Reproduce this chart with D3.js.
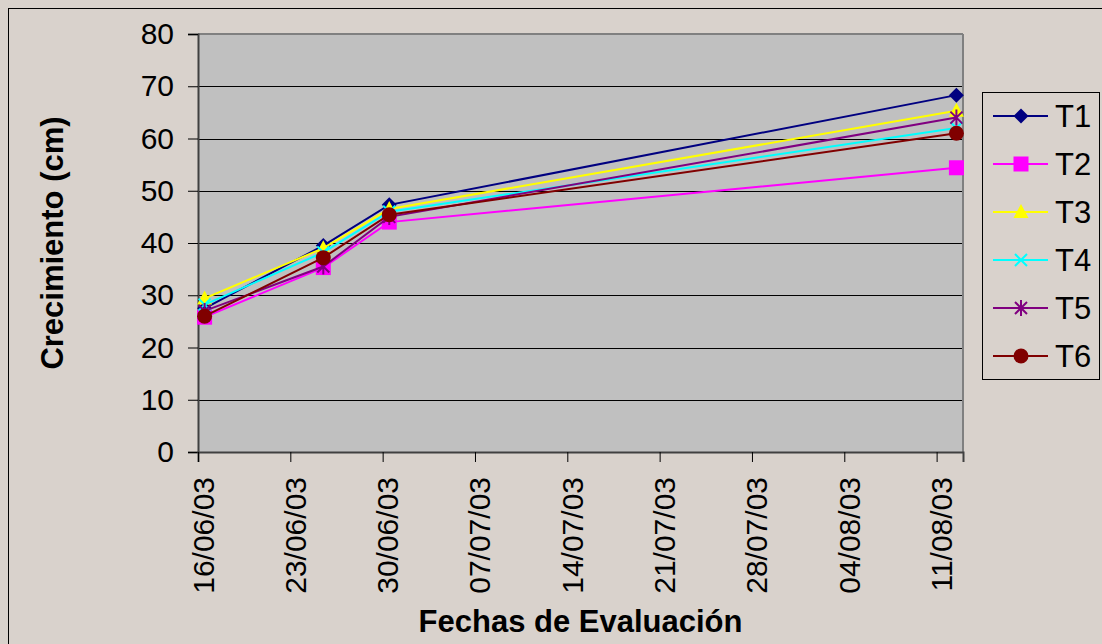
<!DOCTYPE html>
<html>
<head>
<meta charset="utf-8">
<script src="https://cdn.jsdelivr.net/npm/d3@7"></script>
<style>
  body { margin: 0; background: #d9d2cc; }
  svg { display: block; font-family: "Liberation Sans", Arial, sans-serif; }
</style>
</head>
<body>
<div id="content"></div>
<script>
// fechas de evaluacion
var fechas = ["2003-06-16", "2003-06-25", "2003-06-30", "2003-08-12"];

var series = ["T1", "T2", "T3", "T4", "T5", "T6"];
var t1 = [27.5, 39.5, 47.3, 68.3];
var t2 = [25.8, 35.3, 44.0, 54.4];
var t3 = [29.4, 39.0, 46.5, 65.3];
var t4 = [28.2, 38.2, 46.0, 62.0];
var t5 = [27.0, 35.5, 45.0, 64.0];
var t6 = [26.0, 37.2, 45.4, 61.0];
var valores = [t1, t2, t3, t4, t5, t6];

var colores = ["#000080", "#ff00ff", "#ffff00", "#00ffff", "#800080", "#800000"];
var yTicks = [0, 10, 20, 30, 40, 50, 60, 70, 80];

var parse = d3.utcParse("%Y-%m-%d");
var fmt = d3.utcFormat("%d/%m/%y");

var W = 1102, H = 644;
var margin = { top: 34, right: 139, bottom: 192, left: 198 };
var width = W - margin.left - margin.right,
    height = H - margin.top - margin.bottom;

var svg = d3.select("#content").append("svg")
  .attr("width", W)
  .attr("height", H);

svg.append("rect")
  .attr("x", 0).attr("y", 0).attr("width", W).attr("height", H)
  .attr("fill", "#d9d2cc");

svg.append("rect")
  .attr("x", 8.5).attr("y", 8.5).attr("width", W + 10).attr("height", H + 10)
  .attr("fill", "none").attr("stroke", "#000").attr("stroke-width", 1);

var g = svg.append("g")
  .attr("transform", "translate(" + margin.left + "," + margin.top + ")");

// dominio de fecha: un dia extra al final (puntos centrados en el dia)
var x0 = parse(fechas[0]);
var x1 = d3.utcDay.offset(parse(fechas[fechas.length - 1]), 1);
var x = d3.scaleUtc().domain([x0, x1]).range([0, width]);
var y = d3.scaleLinear().domain([0, 80]).range([height, 0]);

function xPos(s) {
  return x(d3.utcHour.offset(parse(s), 12));
}

g.append("rect")
  .attr("width", width).attr("height", height)
  .attr("fill", "#c0c0c0");

// grid
g.selectAll(".grid")
  .data(yTicks.slice(1, -1))
  .enter().append("line")
  .attr("class", "grid")
  .attr("x1", 0).attr("x2", width)
  .attr("y1", function(d) { return Math.round(y(d)) + 0.5; })
  .attr("y2", function(d) { return Math.round(y(d)) + 0.5; })
  .attr("stroke", "#000").attr("stroke-width", 1);

// borde del area
g.append("line").attr("x1", 0).attr("x2", width).attr("y1", 0).attr("y2", 0)
  .attr("stroke", "#808080").attr("stroke-width", 2);
g.append("line").attr("x1", width).attr("x2", width).attr("y1", 0).attr("y2", height)
  .attr("stroke", "#808080").attr("stroke-width", 2);

// eje y
var yAxis = g.append("g")
  .call(d3.axisLeft(y).tickValues(yTicks).tickSize(10).tickPadding(14));
yAxis.select(".domain").attr("stroke", "#404040").attr("stroke-width", 2);
yAxis.selectAll(".tick line").attr("stroke", "#000");
yAxis.selectAll(".tick text")
  .attr("fill", "#000")
  .style("font-size", "30px");

// eje x
var xTicks = d3.utcDay.range(x0, d3.utcDay.offset(x1, -1), 7);
var xAxis = g.append("g")
  .attr("transform", "translate(0," + height + ")")
  .call(d3.axisBottom(x).tickValues(xTicks).tickFormat(fmt).tickSize(10));
xAxis.select(".domain").attr("stroke", "#404040").attr("stroke-width", 2);
xAxis.selectAll(".tick line").attr("stroke", "#000");
xAxis.selectAll(".tick text")
  .attr("fill", "#000")
  .style("font-size", "30px")
  .attr("text-anchor", "end")
  .attr("dy", null)
  .attr("y", 0)
  .attr("transform", "translate(15,25) rotate(-90)");

// titulos
svg.append("text")
  .attr("transform", "translate(63," + (margin.top + height / 2) + ") rotate(-90)")
  .attr("text-anchor", "middle")
  .style("font-size", "31px")
  .style("font-weight", "bold")
  .text("Crecimiento (cm)");

svg.append("text")
  .attr("x", margin.left + width / 2)
  .attr("y", 632)
  .attr("text-anchor", "middle")
  .style("font-size", "31px")
  .style("font-weight", "bold")
  .text("Fechas de Evaluación");

// marcadores
function marker(sel, i) {
  var c = colores[i];
  if (i == 0) {
    sel.append("path").attr("d", "M0,-7.5L7.5,0L0,7.5L-7.5,0Z").attr("fill", c);
  } else if (i == 1) {
    sel.append("rect").attr("x", -7.5).attr("y", -7.5).attr("width", 15).attr("height", 15).attr("fill", c);
  } else if (i == 2) {
    sel.append("path").attr("d", "M0,-8L7.5,6L-7.5,6Z").attr("fill", c);
  } else if (i == 3) {
    sel.append("path").attr("d", "M-6,-6L6,6M-6,6L6,-6")
      .attr("stroke", c).attr("stroke-width", 2).attr("fill", "none");
  } else if (i == 4) {
    sel.append("path").attr("d", "M-6,-6L6,6M-6,6L6,-6M0,-8L0,8")
      .attr("stroke", c).attr("stroke-width", 2).attr("fill", "none");
  } else {
    sel.append("circle").attr("r", 7.5).attr("fill", c);
  }
}

var line = d3.line()
  .x(function(d) { return xPos(d.fecha); })
  .y(function(d) { return y(d.valor); });

series.forEach(function(s, i) {
  var datos = fechas.map(function(f, j) { return { fecha: f, valor: valores[i][j] }; });
  g.append("path")
    .datum(datos)
    .attr("d", line)
    .attr("fill", "none")
    .attr("stroke", colores[i])
    .attr("stroke-width", 2);
  g.selectAll(".m" + i)
    .data(datos)
    .enter().append("g")
    .attr("class", "m" + i)
    .attr("transform", function(d) { return "translate(" + xPos(d.fecha) + "," + y(d.valor) + ")"; })
    .each(function() { marker(d3.select(this), i); });
});

// leyenda
var leg = svg.append("g");
leg.append("rect")
  .attr("x", 982.5).attr("y", 92.5).attr("width", 117).attr("height", 287)
  .attr("fill", "#d9d2cc").attr("stroke", "#000").attr("stroke-width", 1);

var ly = d3.scalePoint().domain(series).range([116, 356]);
series.forEach(function(s, i) {
  var item = leg.append("g").attr("transform", "translate(0," + ly(s) + ")");
  item.append("line")
    .attr("x1", 993).attr("x2", 1048)
    .attr("stroke", colores[i]).attr("stroke-width", 2);
  marker(item.append("g").attr("transform", "translate(1021,0)"), i);
  item.append("text")
    .attr("x", 1055)
    .attr("dy", "0.36em")
    .style("font-size", "31px")
    .text(s);
});
</script>
</body>
</html>
